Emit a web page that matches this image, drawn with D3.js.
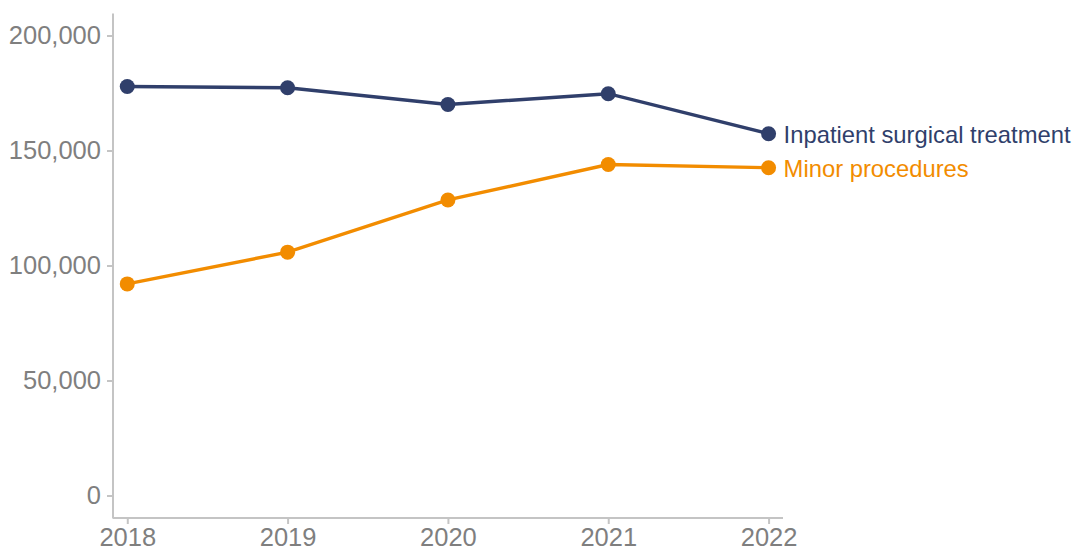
<!DOCTYPE html>
<html><head><meta charset="utf-8">
<script src="https://cdn.jsdelivr.net/npm/d3@7"></script>
<style>html,body{margin:0;padding:0;background:#fff;}svg{display:block;}</style>
</head><body>
<svg id="chart" width="1080" height="551"></svg>
<script>
const years = [2018, 2019, 2020, 2021, 2022];
const inpatient = [177800, 177300, 170000, 174700, 157300];
const minor = [92000, 105800, 128500, 143900, 142500];
const seriesNames = ["Inpatient surgical treatment", "Minor procedures"];
const seriesColors = ["#303f6b", "#f28c00"];
const yTicks = [0, 50000, 100000, 150000, 200000];

const svg = d3.select("#chart");
const font = "'Liberation Sans', Arial, Helvetica, sans-serif";
const x = d3.scaleLinear().domain([2017.911, 2022.09]).range([113, 783]);
const y = d3.scaleLinear().domain([-10000, 209565]).range([518, 13]);

const yAxis = d3.axisLeft(y).tickValues(yTicks).tickSize(6).tickPadding(6)
  .tickFormat(d3.format(","));
const gy = svg.append("g").attr("transform", "translate(113,0.5)").call(yAxis);
const xAxis = d3.axisBottom(x).tickValues(years).tickSize(6).tickPadding(4)
  .tickFormat(d3.format("d"));
const gx = svg.append("g").attr("transform", "translate(0,518)").call(xAxis);
[gx, gy].forEach(g => {
  g.select(".domain").attr("stroke", "#c4c4c4").attr("stroke-width", 2)
    .attr("d", g === gx ? "M113,0H783" : "M0,13V518");
  g.selectAll(".tick line").attr("stroke", "#c4c4c4").attr("stroke-width", 2);
  g.selectAll(".tick text").attr("fill", "#7f7f7f").style("font-family", font).style("font-size", "25.5px");
});

const data = [inpatient, minor];
const line = d3.line().x((d, i) => x(years[i])).y(d => y(d));
data.forEach((vals, si) => {
  const g = svg.append("g").attr("transform", "translate(0,0.5)");
  g.append("path").attr("d", line(vals)).attr("fill", "none")
    .attr("stroke", seriesColors[si]).attr("stroke-width", 3.4);
  g.selectAll("circle").data(vals).join("circle")
    .attr("cx", (d, i) => x(years[i])).attr("cy", d => y(d)).attr("r", 7.5)
    .attr("fill", seriesColors[si]);
  const last = vals[vals.length - 1];
  g.append("text").attr("x", x(years[years.length - 1]) + 15).attr("y", y(last) + 1)
    .attr("dy", "0.35em").attr("fill", seriesColors[si])
    .style("font-family", font).style("font-size", "23.8px").text(seriesNames[si]);
});
</script>
</body></html>
